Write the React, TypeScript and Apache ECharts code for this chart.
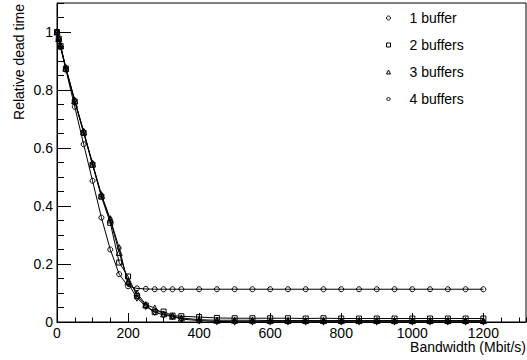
import React, { useEffect, useRef } from "react";
import * as echarts from "echarts";

const bandwidth = [0, 5, 10, 25, 50, 75, 100, 125, 150, 175, 200, 225, 250, 275, 300, 325, 350, 400, 450, 500, 550, 600, 650, 700, 750, 800, 850, 900, 950, 1000, 1050, 1100, 1150, 1200];

const buffer1 = [1.000, 0.975, 0.948, 0.870, 0.742, 0.613, 0.487, 0.360, 0.250, 0.165, 0.123, 0.116, 0.114, 0.113, 0.113, 0.113, 0.113, 0.113, 0.113, 0.113, 0.113, 0.113, 0.113, 0.113, 0.113, 0.113, 0.113, 0.113, 0.113, 0.113, 0.113, 0.113, 0.113, 0.113];
const buffer2 = [1.000, 0.977, 0.952, 0.874, 0.760, 0.652, 0.542, 0.432, 0.342, 0.205, 0.157, 0.090, 0.057, 0.034, 0.036, 0.022, 0.020, 0.017, 0.014, 0.013, 0.013, 0.013, 0.013, 0.012, 0.013, 0.012, 0.012, 0.012, 0.012, 0.012, 0.012, 0.012, 0.012, 0.012];
const buffer3 = [1.000, 0.977, 0.952, 0.875, 0.763, 0.656, 0.545, 0.437, 0.352, 0.240, 0.140, 0.100, 0.060, 0.048, 0.028, 0.020, 0.014, 0.008, 0.006, 0.006, 0.006, 0.005, 0.005, 0.005, 0.005, 0.005, 0.005, 0.005, 0.005, 0.005, 0.005, 0.005, 0.005, 0.005];
const buffer4 = [1.000, 0.977, 0.953, 0.876, 0.764, 0.657, 0.547, 0.438, 0.355, 0.255, 0.133, 0.083, 0.054, 0.034, 0.024, 0.019, 0.010, 0.005, 0.002, 0.001, 0.001, 0.001, 0.001, 0.001, 0.001, 0.001, 0.001, 0.001, 0.001, 0.001, 0.001, 0.001, 0.001, 0.001];

const seriesNames = ["1 buffer", "2 buffers", "3 buffers", "4 buffers"];
const seriesValues = [buffer1, buffer2, buffer3, buffer4];
const seriesSymbols = ["circle", "rect", "triangle", "diamond"];

const xTitle = "Bandwidth (Mbit/s)";
const yTitle = "Relative dead time";

const FONT = "Liberation Sans, Arial, Helvetica, sans-serif";

export default function App() {
  const ref = useRef<HTMLDivElement>(null);
  useEffect(() => {
    if (!ref.current) return;
    document.body.style.margin = "0";
    const chart = echarts.init(ref.current, undefined, { renderer: "svg" });
    const symbolSizes: any[] = [5, 5, 6, [4, 6]];
    chart.setOption({
      animation: false,
      grid: {
        left: 57,
        right: 1,
        top: 3,
        bottom: 38,
        show: true,
        borderColor: "#000",
        borderWidth: 1,
        backgroundColor: "transparent",
      },
      legend: {
        orient: "vertical",
        left: 381,
        top: 6,
        itemWidth: 4,
        itemHeight: 4,
        itemGap: 13,
        data: seriesNames.map((n, i) => ({ name: n, icon: seriesSymbols[i] })),
        itemStyle: { color: "rgba(0,0,0,0)", borderColor: "#000", borderWidth: 1 },
        textStyle: { fontFamily: FONT, fontSize: 14, color: "#000", padding: [0, 0, 0, 14] },
      },
      xAxis: [
        {
          type: "value",
          min: 0,
          max: 1320,
          interval: 200,
          axisLine: { show: true, onZero: false, lineStyle: { color: "#000", width: 1 } },
          axisTick: { show: true, inside: true, length: 9, lineStyle: { color: "#000" } },
          axisLabel: {
            margin: 4,
            fontFamily: FONT,
            fontSize: 14,
            color: "#000",
            showMaxLabel: false,
            formatter: (v: number) => String(v),
          },
          splitLine: { show: false },
        },
        {
          type: "value",
          min: 0,
          max: 1320,
          interval: 50,
          position: "bottom",
          axisLine: { show: false },
          axisTick: { show: true, inside: true, length: 4.5, lineStyle: { color: "#000" } },
          axisLabel: { show: false },
          splitLine: { show: false },
        },
      ],
      yAxis: [
        {
          type: "value",
          min: 0,
          max: 1.1,
          interval: 0.2,
          axisLine: { show: true, onZero: false, lineStyle: { color: "#000", width: 1 } },
          axisTick: { show: true, inside: true, length: 14, lineStyle: { color: "#000" } },
          axisLabel: {
            margin: 4,
            fontFamily: FONT,
            fontSize: 14,
            color: "#000",
            showMaxLabel: false,
            formatter: (v: number) => String(Math.round(v * 10) / 10),
          },
          splitLine: { show: false },
        },
        {
          type: "value",
          min: 0,
          max: 1.1,
          interval: 0.05,
          position: "left",
          axisLine: { show: false },
          axisTick: { show: true, inside: true, length: 7, lineStyle: { color: "#000" } },
          axisLabel: { show: false },
          splitLine: { show: false },
        },
      ],
      series: seriesNames.map((name, i) => ({
        name,
        type: "line",
        xAxisIndex: 0,
        yAxisIndex: 0,
        data: bandwidth.map((x, j) => [x, seriesValues[i][j]]),
        symbol: seriesSymbols[i],
        symbolSize: symbolSizes[i],
        showAllSymbol: true,
        lineStyle: { color: "#000", width: 1 },
        itemStyle: { color: "rgba(0,0,0,0)", borderColor: "#000", borderWidth: 1 },
        emphasis: { disabled: true },
      })),
      graphic: [
        {
          type: "text",
          x: 18.7,
          y: 4,
          rotation: Math.PI / 2,
          style: { text: yTitle, fontFamily: FONT, fontSize: 14, fill: "#000", align: "right", verticalAlign: "middle" },
        },
        {
          type: "text",
          x: 526,
          y: 347,
          style: { text: xTitle, fontFamily: FONT, fontSize: 14, fill: "#000", align: "right", verticalAlign: "middle" },
        },
      ],
    });
    return () => chart.dispose();
  }, []);
  return <div ref={ref} style={{ width: 527, height: 360 }} />;
}
